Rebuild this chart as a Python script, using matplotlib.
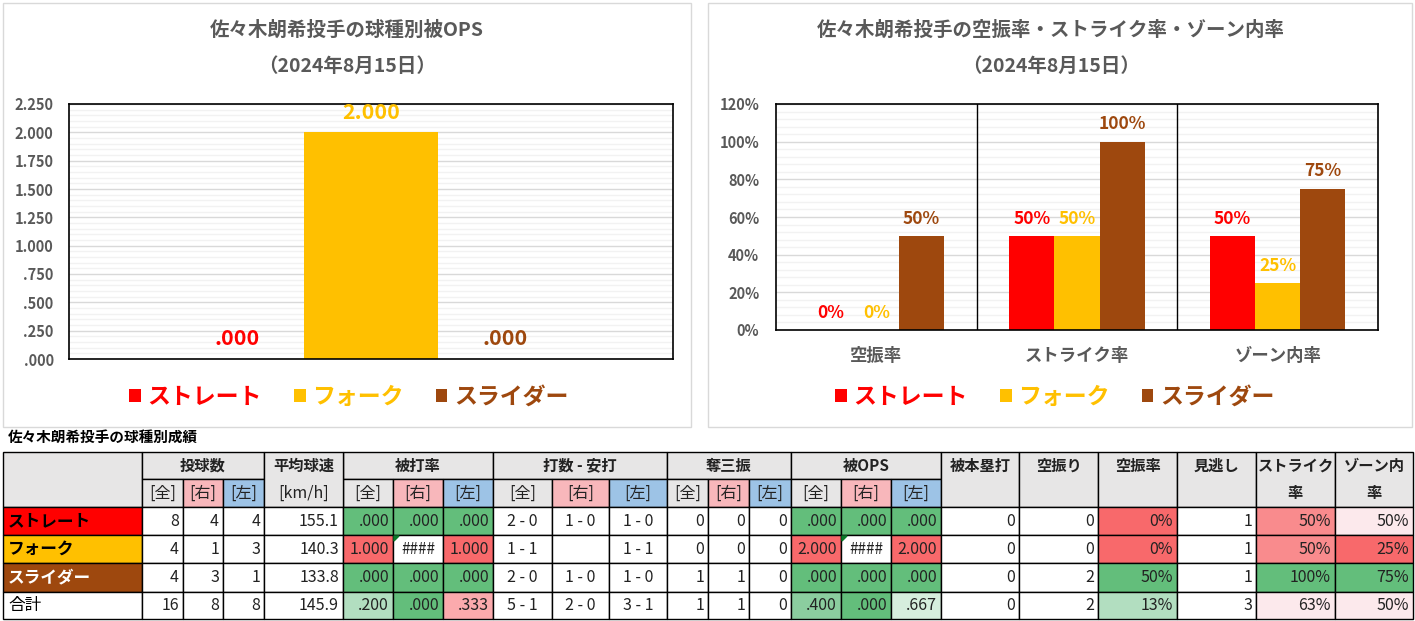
import matplotlib.pyplot as plt
from matplotlib.patches import Rectangle, Polygon
import numpy as np

plt.rcParams['font.family'] = ['Noto Sans CJK JP', 'DejaVu Sans']

# chart data
pitch_types = ['ストレート', 'フォーク', 'スライダー']
pitch_colors = ['#FF0000', '#FFC000', '#9E480E']
ops_values = [0.000, 2.000, 0.000]
rate_names = ['空振率', 'ストライク率', 'ゾーン内率']
whiff_rate = [0.00, 0.00, 0.50]
strike_rate = [0.50, 0.50, 1.00]
zone_rate = [0.50, 0.25, 0.75]

# table data
row_labels = ['ストレート', 'フォーク', 'スライダー', '合計']
label_bg = ['#FF0000', '#FFC000', '#9E480E', 'white']
label_fg = ['black', 'black', 'white', 'black']
pitches = [[8, 4, 4], [4, 1, 3], [4, 3, 1], [16, 8, 8]]
velocity = ['155.1', '140.3', '133.8', '145.9']
avg = [['.000', '.000', '.000'], ['1.000', '####', '1.000'], ['.000', '.000', '.000'], ['.200', '.000', '.333']]
ab_hits = [['2 - 0', '1 - 0', '1 - 0'], ['1 - 1', '', '1 - 1'], ['2 - 0', '1 - 0', '1 - 0'], ['5 - 1', '2 - 0', '3 - 1']]
strikeouts = [[0, 0, 0], [0, 0, 0], [1, 1, 0], [1, 1, 0]]
ops_table = [['.000', '.000', '.000'], ['2.000', '####', '2.000'], ['.000', '.000', '.000'], ['.400', '.000', '.667']]
home_runs = [0, 0, 0, 0]
whiffs = [0, 0, 2, 2]
whiff_pct = ['0%', '0%', '50%', '13%']
looking = [1, 1, 1, 3]
strike_pct = ['50%', '50%', '100%', '63%']
zone_pct = ['50%', '25%', '75%', '50%']

# conditional format colours (column index -> colour) per row
G, R = '#63BE7B', '#F8696B'
cell_colors = [
    {5: G, 6: G, 7: G, 14: G, 15: G, 16: G, 19: R, 21: '#F98B8D', 22: '#FCE9EC'},
    {5: R, 7: R, 14: R, 16: R, 19: R, 21: '#F98B8D', 22: R},
    {5: G, 6: G, 7: G, 14: G, 15: G, 16: G, 19: G, 21: G, 22: G},
    {5: '#B2DEC0', 6: G, 7: '#FBAAAD', 14: '#8BCD9F', 15: G, 16: '#D6EEDD', 19: '#B2DEC0', 21: '#FCE9EC', 22: '#FCE9EC'},
]

W, H = 1415, 621
fig = plt.figure(figsize=(W / 100, H / 100), dpi=100)
bg = fig.add_axes([0, 0, 1, 1])
bg.set_xlim(0, W)
bg.set_ylim(H, 0)
bg.axis('off')

GRAY = '#595959'

# panel borders
bg.add_patch(Rectangle((3, 3), 688, 424, fill=False, ec='#D9D9D9', lw=1))
bg.add_patch(Rectangle((708, 3), 704, 424, fill=False, ec='#D9D9D9', lw=1))


def fmt_ops(v):
    s = f"{v:.3f}"
    return s[1:] if v < 1 else s


def style_axis(ax):
    for s in ax.spines.values():
        s.set_color('black')
        s.set_linewidth(1.2)
    ax.tick_params(axis='both', length=0)
    for lab in ax.get_yticklabels():
        lab.set_fontweight('bold')
        lab.set_color(GRAY)
        lab.set_fontsize(10.5)
    ax.set_axisbelow(True)


def legend(ax, bars, x, y):
    leg = ax.legend(bars, pitch_types, ncol=3, loc='center', bbox_to_anchor=(x, y),
                    frameon=False, handlelength=0.5, handleheight=0.5, handletextpad=0.3,
                    columnspacing=1.4, prop={'weight': 'bold', 'size': 16.5})
    for t, c in zip(leg.get_texts(), pitch_colors):
        t.set_color(c)


def titles(xc, text):
    bg.text(xc, 30, text, ha='center', va='center', fontsize=14, fontweight='bold', color=GRAY)
    bg.text(xc, 66, '（2024年8月15日）', ha='center', va='center', fontsize=14, fontweight='bold', color=GRAY)


# left chart: OPS by pitch type
ax1 = fig.add_axes([69 / W, 1 - 359 / H, 604 / W, 255 / H])
x1 = np.array([-1, 0, 1])
bars1 = ax1.bar(x1, ops_values, width=1.0, color=pitch_colors)
ax1.set_xlim(-2.25, 2.25)
ax1.set_ylim(0, 2.25)
ax1.set_yticks(np.arange(0, 2.26, 0.25))
ax1.set_yticks(np.arange(0, 2.26, 0.05), minor=True)
ax1.set_yticklabels([fmt_ops(v) for v in np.arange(0, 2.26, 0.25)])
ax1.set_xticks([])
ax1.grid(axis='y', which='major', color='#D9D9D9', lw=1)
ax1.grid(axis='y', which='minor', color='#F2F2F2', lw=1)
ax1.tick_params(axis='y', which='minor', length=0)
ax1.tick_params(axis='y', pad=11)
style_axis(ax1)
for b, v, c in zip(bars1, ops_values, pitch_colors):
    ax1.annotate(fmt_ops(v), (b.get_x() + b.get_width() / 2, v), xytext=(0, 7),
                 textcoords='offset points', ha='center', va='bottom',
                 fontsize=15.5, fontweight='bold', color=c)
titles(347, '佐々木朗希投手の球種別被OPS')
legend(ax1, bars1, (349 - 69) / 604, (359 - 397) / 255)

# right chart: whiff / strike / zone rates
ax2 = fig.add_axes([776 / W, 1 - 330 / H, 602 / W, 226 / H])
x2 = np.arange(len(rate_names))
bw = 0.225
series = [[whiff_rate[i], strike_rate[i], zone_rate[i]] for i in range(3)]
bars2 = []
for i, (vals, c) in enumerate(zip(series, pitch_colors)):
    b = ax2.bar(x2 + (i - 1) * bw, vals, width=bw, color=c)
    bars2.append(b)
    for rect, v in zip(b, vals):
        ax2.annotate(f"{v:.0%}", (rect.get_x() + rect.get_width() / 2, v), xytext=(0, 6),
                     textcoords='offset points', ha='center', va='bottom',
                     fontsize=12.5, fontweight='bold', color=c)
ax2.set_xlim(-0.5, 2.5)
ax2.set_ylim(0, 1.2)
ax2.set_yticks(np.arange(0, 1.21, 0.2))
ax2.set_yticks(np.arange(0, 1.21, 0.04), minor=True)
ax2.set_yticklabels([f"{v:.0%}" for v in np.arange(0, 1.21, 0.2)])
ax2.grid(axis='y', which='major', color='#D9D9D9', lw=1)
ax2.grid(axis='y', which='minor', color='#F2F2F2', lw=1)
ax2.tick_params(axis='y', which='minor', length=0)
ax2.tick_params(axis='y', pad=12)
ax2.set_xticks(x2)
ax2.set_xticklabels(rate_names, fontsize=12.5, fontweight='bold', color=GRAY)
ax2.tick_params(axis='x', pad=12)
for sep in [0.5, 1.5]:
    ax2.axvline(sep, color='black', lw=1)
style_axis(ax2)
titles(1051, '佐々木朗希投手の空振率・ストライク率・ゾーン内率')
legend(ax2, bars2, (1055 - 776) / 602, (330 - 397) / 226)

# table
col_edges = [3, 142, 183, 223, 264, 343, 393, 443, 493, 552, 609, 667, 708, 749, 791,
             841, 891, 941, 1019, 1098, 1177, 1256, 1335, 1413]
row_edges = [452, 479, 507, 535, 563, 592, 619]
HDR = '#E7E6E6'
PINK = '#F8B7BB'
BLUE = '#9DC3E6'

bg.text(8, 437, '佐々木朗希投手の球種別成績', fontsize=10.5, fontweight='bold', va='center', ha='left')


def cell(c0, c1, r0, r1, color):
    x0, x1 = col_edges[c0], col_edges[c1]
    y0, y1 = row_edges[r0], row_edges[r1]
    bg.add_patch(Rectangle((x0, y0), x1 - x0, y1 - y0, fc=color, ec='black', lw=1))
    return x0, x1, y0, y1


def mid(a, b):
    return (a + b) / 2


hfont = dict(fontsize=11, fontweight='bold', color='#222222')
# header
cell(0, 1, 0, 2, HDR)
groups = [(1, 4, '投球数'), (5, 8, '被打率'), (8, 11, '打数 - 安打'), (11, 14, '奪三振'), (14, 17, '被OPS')]
for c0, c1, name in groups:
    x0, x1, y0, y1 = cell(c0, c1, 0, 1, HDR)
    bg.text(mid(x0, x1), mid(y0, y1), name, ha='center', va='center', **hfont)
    for k, (sub, col) in enumerate(zip(['[全]', '[右]', '[左]'], [HDR, PINK, BLUE])):
        x0, x1, y0, y1 = cell(c0 + k, c0 + k + 1, 1, 2, col)
        bg.text(mid(x0, x1), mid(y0, y1), sub, ha='center', va='center', fontsize=11.5, color='#222222')
x0, x1, y0, y1 = cell(4, 5, 0, 2, HDR)
bg.text(mid(x0, x1), mid(row_edges[0], row_edges[1]), '平均球速', ha='center', va='center', **hfont)
bg.text(mid(x0, x1), mid(row_edges[1], row_edges[2]), '[km/h]', ha='center', va='center', fontsize=11.5, color='#222222')
single_heads = [['被本塁打'], ['空振り'], ['空振率'], ['見逃し'], ['ストライク', '率'], ['ゾーン内', '率']]
for k, lines in enumerate(single_heads):
    x0, x1, y0, y1 = cell(17 + k, 18 + k, 0, 2, HDR)
    for j, ln in enumerate(lines):
        bg.text(mid(x0, x1), mid(row_edges[j], row_edges[j + 1]), ln, ha='center', va='center', **hfont)

# body
for r in range(4):
    vals = ([str(v) for v in pitches[r]] + [velocity[r]] + avg[r] + ab_hits[r]
            + [str(v) for v in strikeouts[r]] + ops_table[r]
            + [str(home_runs[r]), str(whiffs[r]), whiff_pct[r], str(looking[r]),
               strike_pct[r], zone_pct[r]])
    x0, x1, y0, y1 = cell(0, 1, r + 2, r + 3, label_bg[r])
    bold = 'bold' if r < 3 else 'normal'
    bg.text(x0 + 5, mid(y0, y1), row_labels[r], ha='left', va='center', fontsize=12,
            fontweight=bold, color=label_fg[r])
    for c, v in enumerate(vals, start=1):
        x0, x1, y0, y1 = cell(c, c + 1, r + 2, r + 3, cell_colors[r].get(c, 'white'))
        if v == '####':
            bg.add_patch(Polygon([(x0 + 1, y0 + 1), (x0 + 6, y0 + 1), (x0 + 1, y0 + 6)], color='#0A7A2A'))
            bg.text(mid(x0, x1), mid(y0, y1), v, ha='center', va='center', fontsize=11, color='#222222')
        elif 8 <= c <= 10:
            bg.text(mid(x0, x1), mid(y0, y1), v, ha='center', va='center', fontsize=11.5, color='#222222')
        else:
            bg.text(x1 - 4, mid(y0, y1), v, ha='right', va='center', fontsize=11.5, color='#222222')

fig.savefig('out.png', dpi=100)
